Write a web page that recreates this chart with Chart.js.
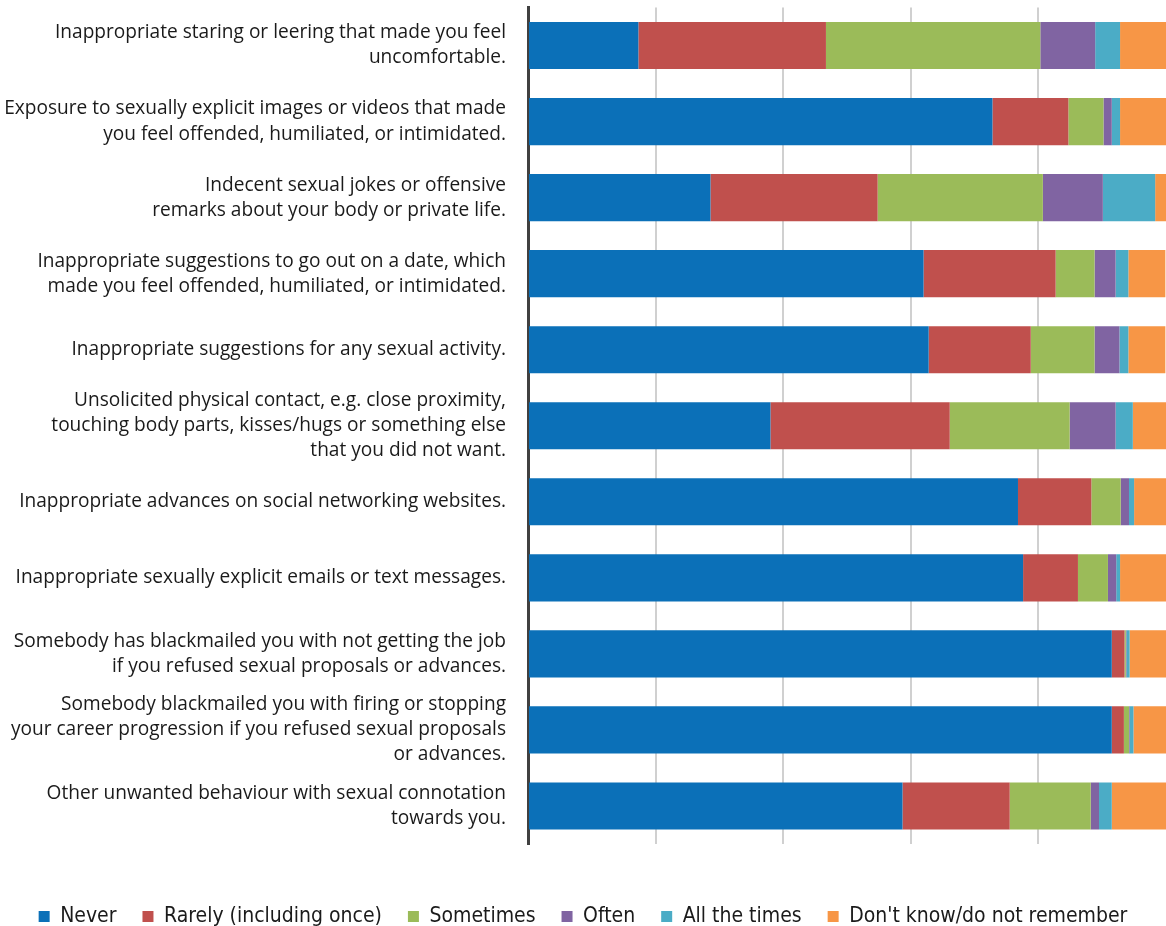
<!DOCTYPE html>
<html>
<head>
<meta charset="utf-8">
<script src="https://cdn.jsdelivr.net/npm/chart.js@4"></script>
<style>
  html, body { margin: 0; padding: 0; background: #fff; }
  #wrap { width: 1166px; height: 926px; position: relative; }
</style>
</head>
<body>
<div id="wrap"><canvas id="chart"></canvas></div>
<script>
const categories = [
    ["Inappropriate staring or leering that made you feel", "uncomfortable."],
    ["Exposure to sexually explicit images or videos that made", "you feel offended, humiliated, or intimidated."],
    ["Indecent sexual jokes or offensive", "remarks about your body or private life."],
    ["Inappropriate suggestions to go out on a date, which", "made you feel offended, humiliated, or intimidated."],
    "Inappropriate suggestions for any sexual activity.",
    ["Unsolicited physical contact, e.g. close proximity,", "touching body parts, kisses/hugs or something else", "that you did not want."],
    "Inappropriate advances on social networking websites.",
    "Inappropriate sexually explicit emails or text messages.",
    ["Somebody has blackmailed you with not getting the job", "if you refused sexual proposals or advances."],
    ["Somebody blackmailed you with firing or stopping", "your career progression if you refused sexual proposals", "or advances."],
    ["Other unwanted behaviour with sexual connotation", "towards you."]
];

const never      = [17.3, 72.8, 28.6, 62.0, 62.8, 38.0, 76.8, 77.6, 91.5, 91.5, 58.7];
const rarely     = [29.4, 11.9, 26.2, 20.7, 16.0, 28.1, 11.5,  8.6,  2.0,  1.9, 16.8];
const sometimes  = [33.6,  5.5, 25.9,  6.1, 10.0, 18.8,  4.6,  4.7,  0.2,  0.8, 12.7];
const often      = [ 8.6,  1.3,  9.4,  3.3,  3.9,  7.2,  1.3,  1.3,  0.1,  0.1,  1.3];
const allTimes   = [ 3.9,  1.3,  8.2,  2.0,  1.4,  2.7,  0.8,  0.6,  0.5,  0.6,  2.0];
const dontKnow   = [ 7.2,  7.2,  1.7,  5.8,  5.8,  5.2,  5.2,  7.2,  5.8,  5.2,  8.5];

const seriesNames = ["Never", "Rarely (including once)", "Sometimes", "Often", "All the times", "Don't know/do not remember"];
const seriesColors = ["#0b70b8", "#c0504d", "#9bbb59", "#8064a2", "#4bacc6", "#f79646"];
const seriesData = [never, rarely, sometimes, often, allTimes, dontKnow];

const xTicks = [0, 20, 40, 60, 80, 100];

const FONT = "'Open Sans', 'Noto Sans', sans-serif";
const LEGEND_FONT = "'DejaVu Sans Condensed', 'Open Sans', sans-serif";
const LEGEND_PAD = 26;

let data = {
    labels: categories,
    datasets: seriesNames.map(function(name, i) {
        return {
            label: name,
            data: seriesData[i],
            backgroundColor: seriesColors[i],
            borderWidth: 0,
            barPercentage: 0.62,
            categoryPercentage: 1
        };
    })
};

let options = {
    indexAxis: 'y',
    responsive: true,
    maintainAspectRatio: false,
    animation: false,
    layout: {
        padding: { top: 7.5, right: 0, left: 0, bottom: -11 }
    },
    plugins: {
        legend: {
            position: 'bottom',
            labels: {
                boxWidth: 11,
                boxHeight: 11,
                padding: LEGEND_PAD,
                color: '#1a1a1a',
                font: { size: 21, family: LEGEND_FONT }
            }
        },
        tooltip: { enabled: false }
    },
    scales: {
        x: {
            stacked: true,
            min: 0,
            max: 100,
            afterBuildTicks: function(axis) {
                axis.ticks = xTicks.map(function(v) { return { value: v }; });
            },
            afterFit: function(axis) { axis.height = 83 - 21 - LEGEND_PAD; },
            grid: {
                display: true,
                color: function(ctx) {
                    let v = ctx.tick ? ctx.tick.value : 0;
                    return (v === 0 || v === 100) ? 'transparent' : '#d0d0d0';
                },
                lineWidth: 2,
                drawTicks: false
            },
            border: { display: false },
            ticks: { display: false }
        },
        y: {
            stacked: true,
            afterFit: function(axis) {
                axis.width = 528;
                axis.paddingTop = 0;
                axis.paddingBottom = 0;
            },
            grid: { display: false, drawTicks: false },
            border: { display: true, color: '#404040', width: 3 },
            ticks: {
                autoSkip: false,
                color: '#1a1a1a',
                padding: 22,
                font: { size: 19.1, family: FONT, lineHeight: 1.31 }
            }
        }
    }
};

let ctx = document.getElementById('chart').getContext('2d');
const chart = new Chart(ctx, {
    type: 'bar',
    data: data,
    options: options
});
</script>
</body>
</html>
